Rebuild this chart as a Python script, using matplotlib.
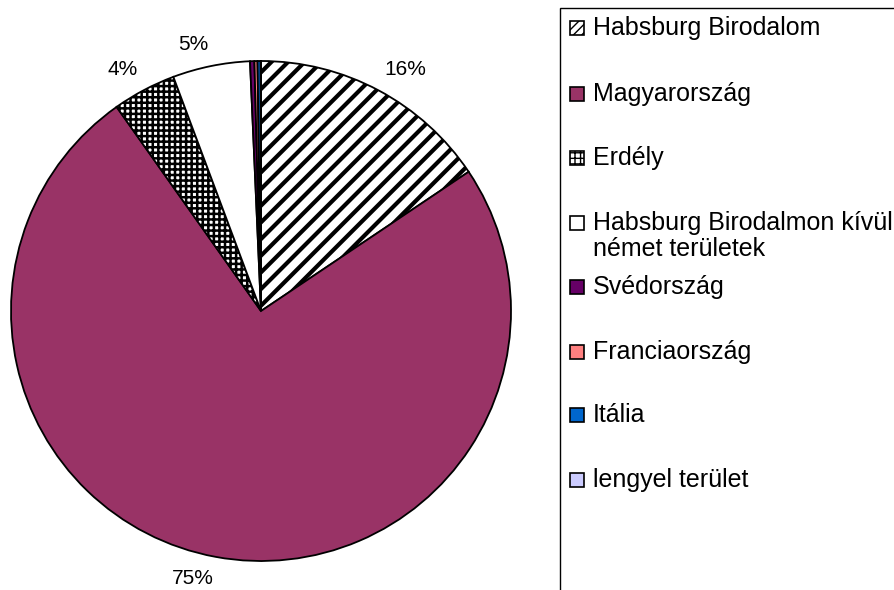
import matplotlib
matplotlib.use("Agg")
import matplotlib.pyplot as plt
import numpy as np
from matplotlib.patches import Rectangle

plt.rcParams['font.family'] = ['Liberation Sans', 'DejaVu Sans']

# data (percent share)
labels = ['Habsburg Birodalom', 'Magyarország', 'Erdély',
          'Habsburg Birodalmon kívüli\nnémet területek',
          'Svédország', 'Franciaország', 'Itália', 'lengyel terület']
values = [15.6, 74.6, 4.1, 5.0, 0.28, 0.2, 0.2, 0.02]
colors = ['white', '#993366', 'white', 'white', '#660066', '#FF8080', '#0066CC', '#CCCCFF']
hatches = ['//', None, '+++', None, None, None, None, None]

W, H = 895, 590
fig = plt.figure(figsize=(W / 100, H / 100), dpi=100)

# pie centre ~ (261, 311) px, radius ~250 px
cx, cy, r = 261, 311, 250
ax = fig.add_axes([(cx - r) / W, (H - cy - r) / H, 2 * r / W, 2 * r / H])


def pct(p):
    return '%d%%' % round(p) if p >= 1 else ''


wedges, texts, autotexts = ax.pie(
    values, colors=colors, startangle=90, counterclock=False,
    autopct=pct, pctdistance=1.05, radius=1,
    wedgeprops=dict(edgecolor='black', linewidth=1.3),
    textprops=dict(fontsize=15, color='black'))
for w, h in zip(wedges, hatches):
    if h:
        w.set_hatch(h)
        if hasattr(w, 'set_hatch_linewidth'):
            w.set_hatch_linewidth(3.0 if h == '//' else 1.8)

# Excel-style outside labels: anchor the corner nearest the pie
for t in autotexts:
    x, y = t.get_position()
    t.set_ha('left' if x > 0 else 'right')
    t.set_va('bottom' if y > 0 else 'top')

ax.set_xlim(-1, 1)
ax.set_ylim(-1, 1)
ax.set_aspect('equal')
ax.axis('off')

# legend box (runs off the right/bottom edge as in the original)
fig.add_artist(Rectangle((560 / W, -0.05), 0.5, (H - 8) / H + 0.05,
                         transform=fig.transFigure, facecolor='none',
                         edgecolor='black', linewidth=1))

leg_y = [28, 94, 158, 223, 287, 352, 415, 480]
for lab, col, h, y in zip(labels, colors, hatches, leg_y):
    box = Rectangle((570 / W, (H - y - 7) / H), 14 / W, 14 / H,
                    transform=fig.transFigure, facecolor=col,
                    edgecolor='black', linewidth=1.2)
    if h:
        box.set_hatch('////' if h == '//' else '+++')
    fig.add_artist(box)
    if '\n' in lab:
        fig.text(593 / W, (H - y + 12) / H, lab, fontsize=18, va='top',
                 ha='left', linespacing=1.12)
    else:
        fig.text(593 / W, (H - y) / H, lab, fontsize=18, va='center', ha='left')

fig.savefig('out.png', dpi=100)
